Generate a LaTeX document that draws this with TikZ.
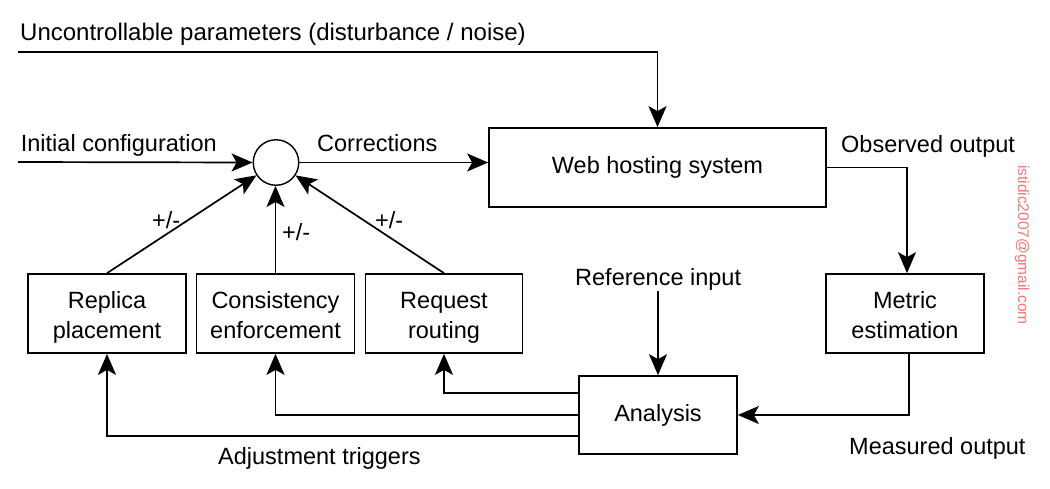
\documentclass[tikz,border=0pt]{standalone}
\usepackage{fontspec}
\setmainfont{Liberation Sans}
\usetikzlibrary{arrows.meta,calc}
\definecolor{wmcol}{RGB}{240,120,120}
\newcommand\mystrut{\rule[-5pt]{0pt}{30pt}}
\begin{document}
\begin{tikzpicture}[x=1pt,y=-1pt,
  every node/.style={font=\fontsize{23.5}{30}\selectfont, inner sep=0pt},
  box/.style={draw, line width=1.7pt, minimum width=158pt, minimum height=79pt, align=center},
  conn/.style={line width=1.7pt, -{Stealth[length=21pt,width=18pt,inset=5pt]}},
  lbl/.style={anchor=base west},
]
\useasboundingbox[fill=white] (0,0) rectangle (1050,488);

% boxes
\node[box, minimum width=337pt] (web) at (657.5,167.5) {Web hosting system};
\node[draw, circle, line width=1.4pt, minimum size=45.5pt] (circ) at (276,162.5) {};
\node[box] (rep) at (107,313.5) {\mystrut Replica\\ placement\mystrut};
\node[box] (cons) at (275.5,313.5) {\mystrut Consistency\\ enforcement\mystrut};
\node[box, minimum width=157pt] (req) at (444,313.5) {\mystrut Request\\ routing\mystrut};
\node[box] (met) at (905,313.5) {\mystrut Metric\\ estimation\mystrut};
\node[box, minimum height=78pt] (ana) at (658,415) {Analysis};

% labels
\node[lbl, font=\fontsize{24}{30}\selectfont] (unc) at (20,40.7) {Uncontrollable parameters (disturbance / noise)};
\node[lbl] (ini) at (20.7,151) {Initial configuration};
\node[lbl] (cor) at (317,151) {Corrections};
\node[lbl] (obs) at (841,152) {Observed output};
\node[lbl] (ref) at (575,285.7) {Reference input};
\node[lbl] (mea) at (849,454) {Measured output};
\node[lbl] (adj) at (218,464) {Adjustment triggers};
\node[lbl] (pm1) at (152,228) {+/-};
\node[lbl] (pm2) at (282,240) {+/-};
\node[lbl] (pm3) at (375,228) {+/-};
\node[font=\fontsize{15.5}{18}\selectfont, text=wmcol, rotate=-90] (wm) at (1022,245) {istidic2007@gmail.com};

% free ends
\coordinate (uin) at (18,52);
\coordinate (iin) at (18,162);

% connectors
\draw[conn] (uin) -| (web.north);
\draw[conn] (iin) -- (circ.west);
\draw[conn] (circ.east) -- (circ.east -| web.west);
\draw[conn] (rep.north) -- (circ);
\draw[conn] (cons.north) -- (cons.north |- circ.south);
\draw[conn] (req.north) -- (circ);
\draw[conn] (web.east) -| ([xshift=2pt]met.north);
\draw[conn] ([xshift=4pt]met.south) |- (ana.east);
\draw[conn] (ref.south -| ana.north) -- (ana.north);
\draw[conn] ([yshift=22pt]ana.west) -| (req.south);
\draw[conn] (ana.west) -| (cons.south);
\draw[conn] ([yshift=-21pt]ana.west) -| (rep.south);
\end{tikzpicture}
\end{document}
